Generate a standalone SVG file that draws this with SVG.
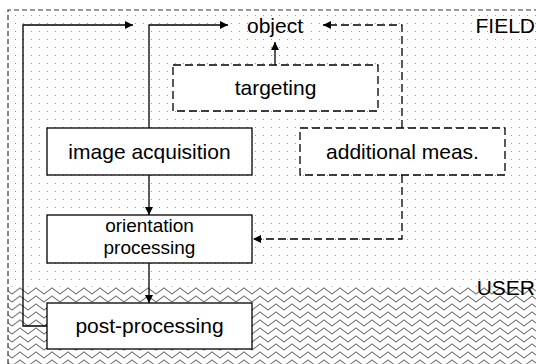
<svg xmlns="http://www.w3.org/2000/svg" width="536" height="364" viewBox="0 0 536 364">
  <defs>
    <pattern id="dots" x="15" y="15" width="8" height="8" patternUnits="userSpaceOnUse">
      <rect x="-0.7" y="-0.7" width="1.6" height="1.6" fill="#808080"/>
    </pattern>
    <pattern id="waves" x="0" y="287" width="16" height="8" patternUnits="userSpaceOnUse">
      <path d="M0,4 L4,1 L8,4 L12,7 L16,4" fill="none" stroke="#808080" stroke-width="1.1"/>
    </pattern>
    <marker id="arr" viewBox="0 0 10 10" refX="10" refY="5" markerWidth="8" markerHeight="8" markerUnits="userSpaceOnUse" orient="auto">
      <path d="M0,0 L10,5 L0,10 Z" fill="#000"/>
    </marker>
  </defs>
  <style>
    .lbl { font-family: "Liberation Sans", Arial, sans-serif; font-size: 21px; fill: #000; text-anchor: middle; }
    .lbl2 { font-family: "Liberation Sans", Arial, sans-serif; font-size: 19px; fill: #000; text-anchor: middle; }
    .zone { font-family: "Liberation Sans", Arial, sans-serif; font-size: 21px; fill: #000; text-anchor: end; }
    .box { fill: #fff; stroke: #000; stroke-width: 1.3; }
    .dbox { fill: #fff; stroke: #000; stroke-width: 1.3; stroke-dasharray: 8 4; }
    .edge { fill: none; stroke: #000; stroke-width: 1.3; marker-end: url(#arr); }
    .dedge { fill: none; stroke: #000; stroke-width: 1.3; stroke-dasharray: 8 4; marker-end: url(#arr); }
  </style>

  <!-- background zones -->
  <rect x="0" y="0" width="536" height="364" fill="#fff"/>
  <rect x="8" y="10" width="528" height="276" fill="url(#dots)"/>
  <rect x="8" y="286" width="528" height="78" fill="url(#waves)"/>
  <path d="M8,364 L8,10 L536,10" fill="none" stroke="#333" stroke-width="1.2" stroke-dasharray="5 3"/>
  <text class="zone" x="535" y="33">FIELD</text>
  <text class="zone" x="535" y="295">USER</text>

  <!-- connectors -->
  <g id="connectors">
    <path class="edge" d="M47,326 L23,326 L23,25 L133,25"/>
    <path class="edge" d="M149,128 L149,25 L228,25"/>
    <path class="edge" d="M275,65 L275,42"/>
    <path class="edge" d="M149,175 L149,215"/>
    <path class="edge" d="M149,263 L149,303"/>
    <path class="dedge" d="M402,128 L402,25 L323,25"/>
    <path class="dedge" d="M402,175 L402,239 L253,239"/>
  </g>

  <!-- nodes -->
  <g id="object">
    <text class="lbl" x="275" y="33">object</text>
  </g>
  <g id="targeting">
    <rect class="dbox" x="173" y="65" width="205" height="46"/>
    <text class="lbl" x="275.5" y="95">targeting</text>
  </g>
  <g id="image-acquisition">
    <rect class="box" x="47" y="128" width="205" height="47"/>
    <text class="lbl" x="149.5" y="159">image acquisition</text>
  </g>
  <g id="additional-meas">
    <rect class="dbox" x="300" y="128" width="205" height="47"/>
    <text class="lbl" x="402.5" y="159">additional meas.</text>
  </g>
  <g id="orientation-processing">
    <rect class="box" x="47" y="215" width="205" height="48"/>
    <text class="lbl2" x="149.5" y="232">orientation</text>
    <text class="lbl2" x="149.5" y="253.5">processing</text>
  </g>
  <g id="post-processing">
    <rect class="box" x="47" y="303" width="205" height="46"/>
    <text class="lbl" x="149.5" y="333">post-processing</text>
  </g>
</svg>
